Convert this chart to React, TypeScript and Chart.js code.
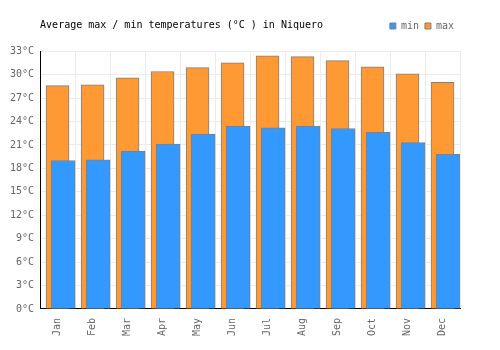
import React, { useEffect, useRef } from "react";
import { Chart, registerables } from "chart.js";

Chart.register(...registerables);

const TITLE = "Average max / min temperatures (°C ) in Niquero";
const MONTHS = ["Jan", "Feb", "Mar", "Apr", "May", "Jun", "Jul", "Aug", "Sep", "Oct", "Nov", "Dec"];
const MIN_TEMPS = [19.0, 19.1, 20.2, 21.1, 22.4, 23.4, 23.2, 23.4, 23.1, 22.6, 21.3, 19.8];
const MAX_TEMPS = [28.6, 28.7, 29.6, 30.4, 30.9, 31.5, 32.4, 32.3, 31.8, 31.0, 30.1, 29.0];
const Y_MIN = 0;
const Y_MAX = 33;
const Y_STEP = 3;

const FONT = '"DejaVu Sans Mono", monospace';
const MIN_SHIFT = 0.16; // horizontal offset of the min bars, in category units

export default function App() {
  const ref = useRef<HTMLCanvasElement | null>(null);

  useEffect(() => {
    document.body.style.margin = "0";
    const canvas = ref.current;
    if (!canvas) return;

    const titlePlugin = {
      id: "sideTitle",
      afterDraw(chart: any) {
        const { ctx, chartArea } = chart;
        ctx.save();
        ctx.font = `10px ${FONT}`;
        ctx.fillStyle = "#000";
        ctx.textAlign = "left";
        ctx.textBaseline = "middle";
        ctx.fillText(TITLE, chartArea.left, 25);
        ctx.restore();
      },
    };

    const chart = new Chart(canvas, {
      type: "bar",
      data: {
        labels: MONTHS,
        datasets: [
          {
            label: "min",
            data: MIN_TEMPS.map((v, i) => ({ x: i + MIN_SHIFT, y: v })),
            xAxisID: "x2",
            backgroundColor: "rgb(51,153,255)",
            borderColor: "#808080",
            borderWidth: 1,
            grouped: false,
            barThickness: 24,
            order: 0,
          },
          {
            label: "max",
            data: MAX_TEMPS,
            xAxisID: "x",
            backgroundColor: "rgb(255,153,51)",
            borderColor: "#808080",
            borderWidth: 1,
            grouped: false,
            barThickness: 23,
            order: 1,
          },
        ],
      } as any,
      options: {
        responsive: false,
        animation: false,
        devicePixelRatio: 1,
        layout: { padding: { left: 4, right: 40, top: 15, bottom: 5 } },
        font: { family: FONT, size: 10 },
        plugins: {
          tooltip: { enabled: false },
          title: { display: false },
          subtitle: {
            display: true,
            text: "",
            weight: 500,
            padding: 0,
            font: { size: 8.5, family: FONT },
          } as any,
          legend: {
            display: true,
            position: "top",
            align: "end",
            labels: {
              boxWidth: 6,
              boxHeight: 6,
              padding: 6,
              color: "#666",
              font: { family: FONT, size: 10 },
            },
          },
        },
        scales: {
          x: {
            type: "category",
            offset: true,
            grid: { offset: true, color: "#ebebeb", drawTicks: false },
            border: { color: "#000", width: 1 },
            ticks: {
              color: "#666",
              padding: 9,
              minRotation: 90,
              maxRotation: 90,
              font: { family: FONT, size: 10 },
            },
          },
          x2: {
            type: "linear",
            display: false,
            min: -0.5,
            max: MONTHS.length - 0.5,
            offset: false,
          },
          y: {
            min: Y_MIN,
            max: Y_MAX,
            grid: { color: "#ebebeb", drawTicks: false },
            border: { color: "#000", width: 1 },
            ticks: {
              stepSize: Y_STEP,
              color: "#666",
              padding: 6,
              font: { family: FONT, size: 10 },
              callback: (v: any) => `${v}°C`,
            },
          },
        },
      } as any,
      plugins: [titlePlugin],
    });

    return () => chart.destroy();
  }, []);

  return (
    <div style={{ width: 500, height: 350 }}>
      <canvas ref={ref} width={500} height={350} style={{ display: "block" }} />
    </div>
  );
}
